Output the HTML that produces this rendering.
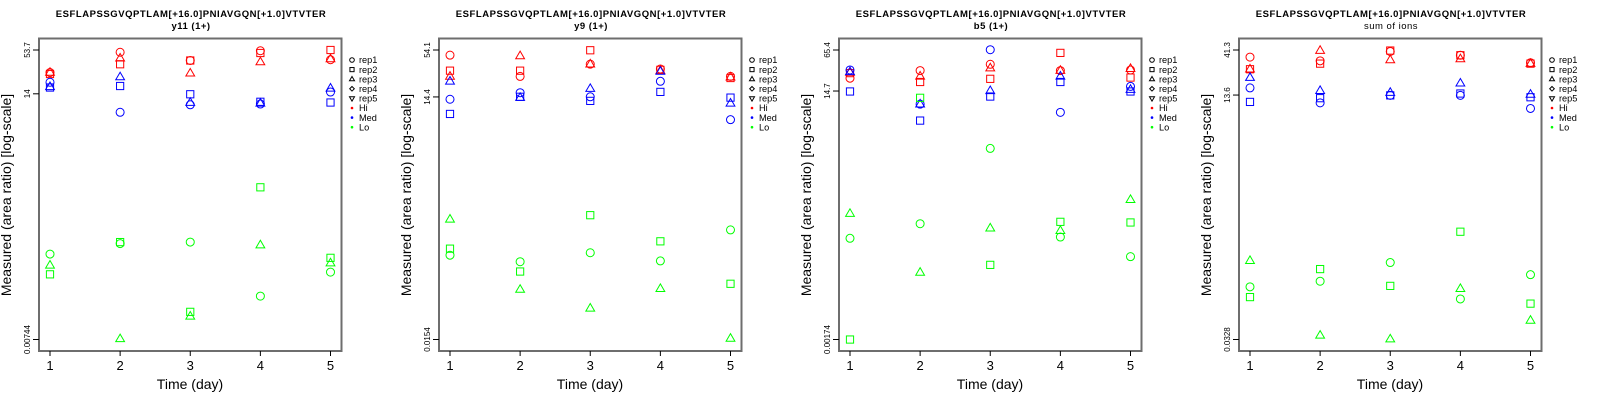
<!DOCTYPE html>
<html><head><meta charset="utf-8"><style>
html,body{margin:0;padding:0;background:#fff;}
svg{display:block;font-family:"Liberation Sans",sans-serif;}
</style></head><body>
<svg id="chart" width="1600" height="400" viewBox="0 0 1600 400" xmlns="http://www.w3.org/2000/svg"></svg>
<script>
// values are log10(area ratio); rows = rep1, rep2, rep3; columns = day 1..5
const days = [1, 2, 3, 4, 5];
const subtitles = ["y11 (1+)", "y9 (1+)", "b5 (1+)", "sum of ions"];
const yTickLabels = [["53.7", "14", "0.00744"], ["54.1", "14.4", "0.0154"], ["65.4", "14.7", "0.00174"], ["41.3", "13.6", "0.0328"]];
const yTickValues = [[53.7, 14, 0.00744], [54.1, 14.4, 0.0154], [65.4, 14.7, 0.00174], [41.3, 13.6, 0.0328]];
const p1Hi = [[1.43,1.70,1.59,1.72,1.60],[1.41,1.54,1.59,1.69,1.73],[1.43,1.62,1.42,1.57,1.61]];
const p1Med = [[1.30,0.90,1.00,1.01,1.17],[1.23,1.25,1.14,1.04,1.03],[1.24,1.37,1.03,1.02,1.22]];
const p1Lo = [[-0.99,-0.85,-0.83,-1.55,-1.23],[-1.26,-0.83,-1.76,-0.10,-1.04],[-1.14,-2.12,-1.82,-0.87,-1.11]];
const p2Hi = [[1.67,1.41,1.56,1.50,1.41],[1.48,1.48,1.73,1.49,1.39],[1.41,1.66,1.56,1.48,1.40]];
const p2Med = [[1.13,1.21,1.16,1.35,0.88],[0.95,1.16,1.11,1.22,1.15],[1.35,1.15,1.26,1.47,1.08]];
const p2Lo = [[-0.78,-0.86,-0.75,-0.85,-0.47],[-0.70,-0.98,-0.29,-0.61,-1.13],[-0.34,-1.20,-1.43,-1.19,-1.80]];
const p3Hi = [[1.37,1.49,1.59,1.49,1.50],[1.45,1.31,1.36,1.77,1.38],[1.46,1.40,1.53,1.49,1.52]];
const p3Med = [[1.50,0.96,1.82,0.83,1.24],[1.16,0.70,1.08,1.31,1.16],[1.47,0.96,1.17,1.40,1.19]];
const p3Lo = [[-1.16,-0.93,0.26,-1.14,-1.45],[-2.76,1.06,-1.58,-0.90,-0.91],[-0.77,-1.70,-1.00,-1.04,-0.55]];
const p4Hi = [[1.54,1.50,1.60,1.56,1.48],[1.41,1.47,1.61,1.56,1.47],[1.41,1.61,1.51,1.52,1.47]];
const p4Med = [[1.21,1.05,1.13,1.13,0.99],[1.06,1.10,1.13,1.15,1.11],[1.32,1.18,1.16,1.26,1.14]];
const p4Lo = [[-0.92,-0.86,-0.66,-1.05,-0.79],[-1.03,-0.73,-0.91,-0.33,-1.10],[-0.64,-1.44,-1.48,-0.94,-1.28]];
const groupNames = ["Hi", "Med", "Lo"];
const groupColors = ["#ff0000", "#0000ff", "#00ff00"];
const repNames = ["rep1", "rep2", "rep3", "rep4", "rep5"];
const panels = [[p1Hi,p1Med,p1Lo],[p2Hi,p2Med,p2Lo],[p3Hi,p3Med,p3Lo],[p4Hi,p4Med,p4Lo]];

const NS = "http://www.w3.org/2000/svg";
const svg = document.getElementById("chart");
function mk(tag, attrs, parent, text) {
  const e = document.createElementNS(NS, tag);
  for (const k in attrs) e.setAttribute(k, attrs[k]);
  if (text !== undefined) e.textContent = text;
  parent.appendChild(e);
  return e;
}
function marker(shape, cx, cy, r, color, parent) {
  let e;
  if (shape === 0) e = mk("circle", {cx: cx, cy: cy, r: r, fill: "none", stroke: color, "stroke-width": 1}, parent);
  else if (shape === 1) e = mk("rect", {x: cx - r * 0.9, y: cy - r * 0.9, width: r * 1.8, height: r * 1.8, fill: "none", stroke: color, "stroke-width": 1}, parent);
  else if (shape === 2) e = mk("polygon", {points: `${cx},${cy - r * 1.2} ${cx - r * 1.1},${cy + r * 0.7} ${cx + r * 1.1},${cy + r * 0.7}`, fill: "none", stroke: color, "stroke-width": 1}, parent);
  else if (shape === 3) e = mk("polygon", {points: `${cx},${cy - r} ${cx + r},${cy} ${cx},${cy + r} ${cx - r},${cy}`, fill: "none", stroke: color, "stroke-width": 1}, parent);
  else e = mk("polygon", {points: `${cx},${cy + r * 1.2} ${cx - r * 1.1},${cy - r * 0.7} ${cx + r * 1.1},${cy - r * 0.7}`, fill: "none", stroke: color, "stroke-width": 1}, parent);
  return e;
}

panels.forEach((groups, pi) => {
  const ox = pi * 400;
  const g = mk("g", {transform: `translate(${ox},0)`}, svg);
  
  
  const lmax = Math.log10(yTickValues[pi][0]);
  const lmin = Math.log10(yTickValues[pi][2]);
  const xS = d => 50 + (d - 1) * (330.5 - 50) / 4;
  const yS = L => 339.5 - (L - lmin) / (lmax - lmin) * 289.5;

  const t1 = mk("text", {x: 191, y: 17, "text-anchor": "middle", "font-size": 9.5, "font-weight": "bold", "letter-spacing": 0.55}, g, "ESFLAPSSGVQPTLAM[+16.0]PNIAVGQN[+1.0]VTVTER");
  
  
  const t2 = mk("text", {x: 191, y: 29, "text-anchor": "middle", "font-size": 9.5, "letter-spacing": 0.5, "font-weight": pi === 3 ? "normal" : "bold"}, g, subtitles[pi]);
  
  

  const box = mk("rect", {x: 39, y: 38.5, width: 302.5, height: 312.5, fill: "none", stroke: "#6e6e6e", "stroke-width": 2}, g);
  
  

  days.forEach(d => {
    const x = xS(d);
    const tk = mk("line", {x1: x, y1: 351, x2: x, y2: 356, stroke: "#000", "stroke-width": 1}, g);
    
    
    const tl = mk("text", {x: x, y: 370, "text-anchor": "middle", "font-size": 13}, g, String(d));
    
    
  });
  yTickValues[pi].forEach((v, i) => {
    const y = yS(Math.log10(v));
    const tk = mk("line", {x1: 33, y1: y, x2: 39, y2: y, stroke: "#000", "stroke-width": 1}, g);
    
    
    const tl = mk("text", {x: 30, y: y, "text-anchor": "middle", "font-size": 8, transform: `rotate(-90 30 ${y})`}, g, yTickLabels[pi][i]);
    
    
  });
  const xl = mk("text", {x: 190, y: 389, "text-anchor": "middle", "font-size": 14}, g, "Time (day)");
  
  
  const yl = mk("text", {x: 11, y: 195, "text-anchor": "middle", "font-size": 14, transform: "rotate(-90 11 195)"}, g, "Measured (area ratio) [log-scale]");
  
  

  groups.forEach((reps, gi) => {
    reps.forEach((vals, ri) => {
      vals.forEach((L, di) => {
        const m = marker(ri, xS(days[di]), yS(L), 4, groupColors[gi], g);
        
        
      });
    });
  });

  const lg = mk("g", {}, g);
  
  
  repNames.forEach((n, i) => {
    const y = 60 + i * 9.6;
    marker(i, 352, y, 2.3, "#000", lg);
    const lt = mk("text", {x: 359, y: y + 3.2, "font-size": 9.2}, lg, n);
    
    
  });
  groupNames.forEach((n, i) => {
    const y = 60 + (5 + i) * 9.6;
    mk("circle", {cx: 352, cy: y, r: 1.3, fill: groupColors[i]}, lg);
    const lt = mk("text", {x: 359, y: y + 3.2, "font-size": 9.2}, lg, n);
    
    
  });
});
</script>
</body></html>
